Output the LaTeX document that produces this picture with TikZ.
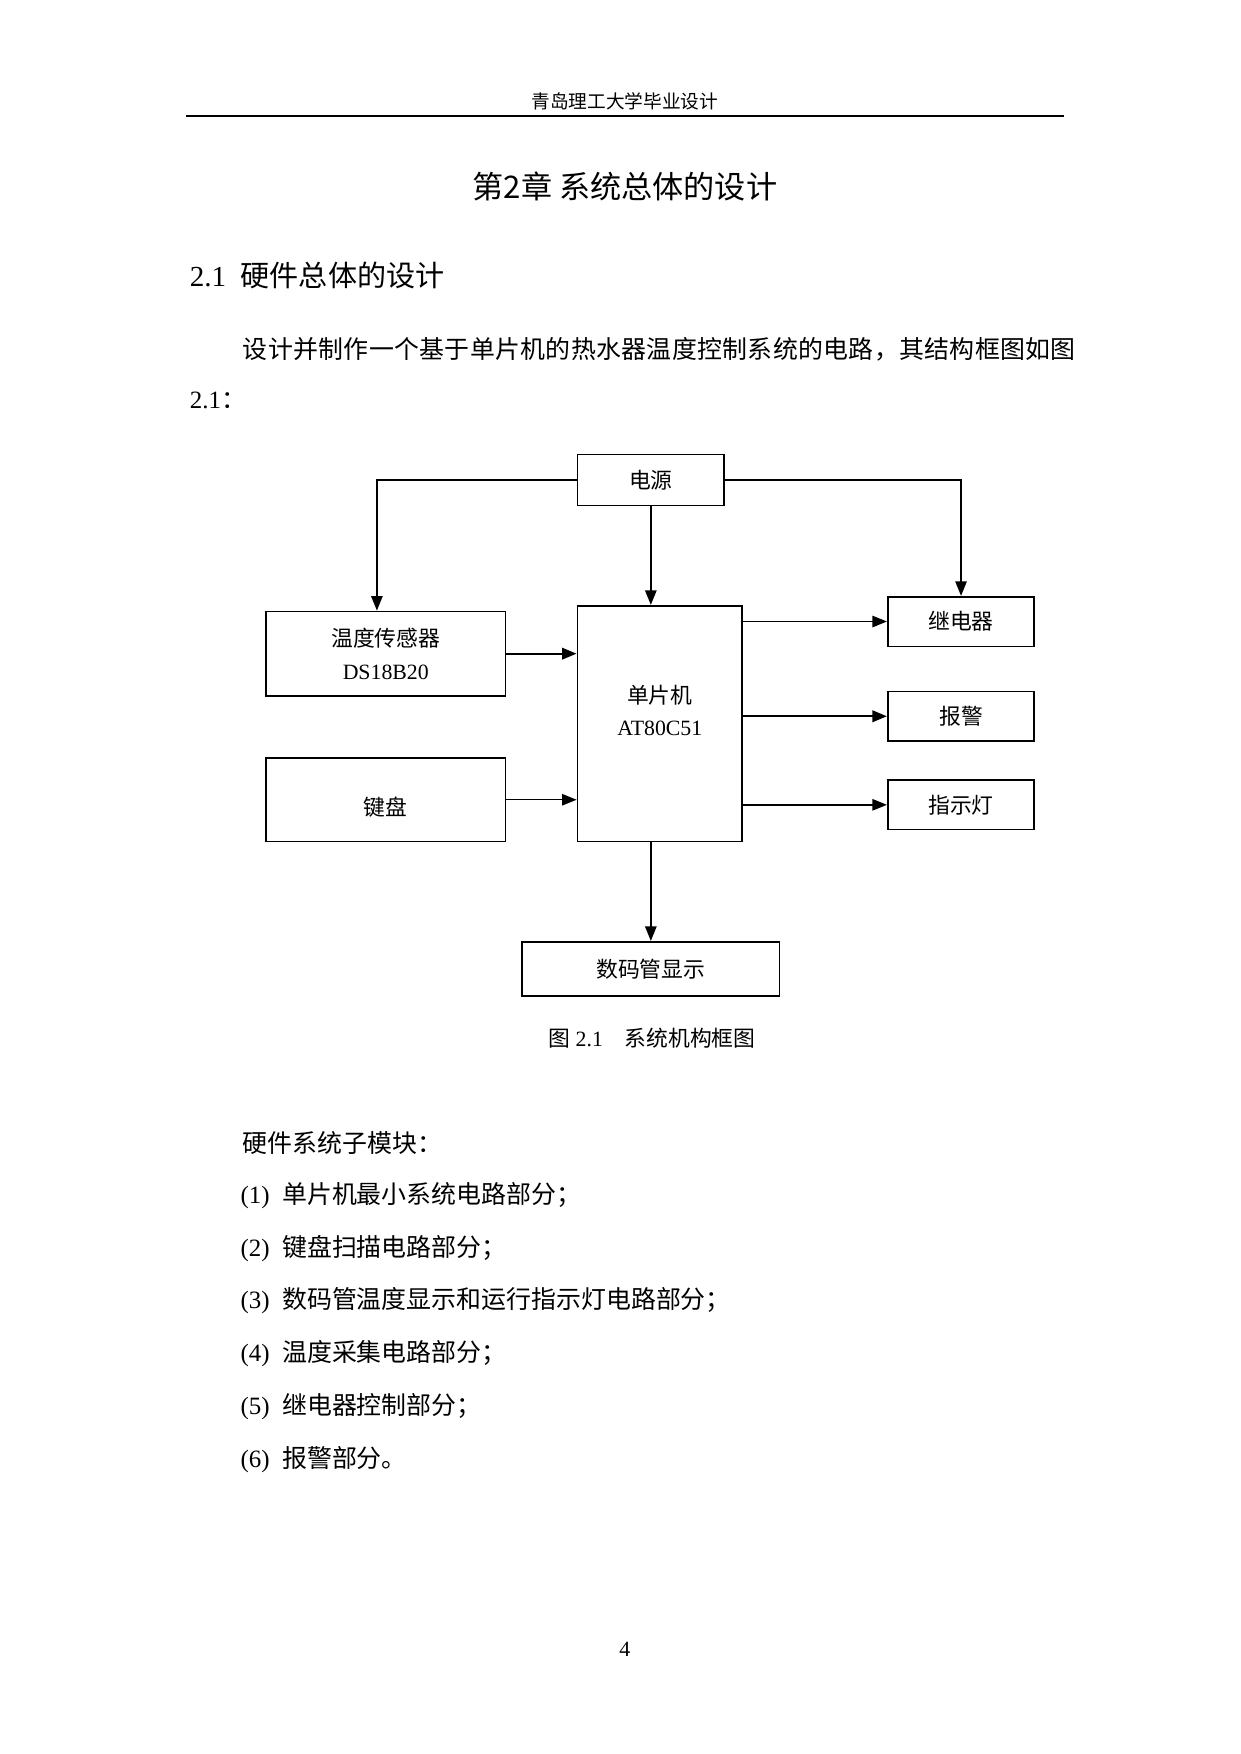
\documentclass[tikz,border=0pt]{standalone}
\usepackage{fontspec}
\setmainfont{Liberation Serif}
\newfontfamily\cjk{Noto Sans CJK SC}
\usetikzlibrary{arrows.meta,positioning}

\begin{document}
\begin{tikzpicture}[
x=0.019088cm, y=-0.019088cm,
block/.style={rectangle, draw=black, line width=0.8pt, align=center, inner sep=0pt, font=\cjk\fontsize{10.5pt}{15.7pt}\selectfont},
smallbox/.style={block, minimum width=2.48cm, minimum height=0.84cm},
wire/.style={line width=0.7pt, -{Triangle[length=7pt,width=5.5pt]}},
body/.style={anchor=west, inner sep=0pt, font=\fontsize{12pt}{14pt}\selectfont},
]
\useasboundingbox (0,0) rectangle (1100.2,1555);
% page head
\node (head) [font=\cjk\fontsize{9pt}{11pt}\selectfont] at (554,90) {青岛理工大学毕业设计};
\draw[line width=1pt] (165,103) -- (943,103);
\node (title) [font=\cjk\fontsize{15pt}{18pt}\selectfont] at (554,165) {第2章 系统总体的设计};
\node (sec) [body, font=\fontsize{14pt}{16pt}\selectfont] at (168,244) {2.1\hspace{0.5em}{\cjk 硬件总体的设计}};
\node (par1) [body] at (215,310) {\cjk\addfontfeature{LetterSpace=1.3}设计并制作一个基于单片机的热水器温度控制系统的电路，其结构框图如图};
\node (par2) [body] at (168,355) {2.1{\cjk ：}};

% blocks
\node (power) [block, minimum width=2.48cm, minimum height=0.86cm] at (577,425.5) {电源};
\node (sensor) [block, minimum width=4.05cm, minimum height=1.43cm] at (342,579.5) {温度传感器\\\rmfamily DS18B20};
\node (mcu) [block, minimum width=2.79cm, minimum height=3.99cm] at (585,641.5) {单片机\\\rmfamily AT80C51\\[-0.1cm]\mbox{}};
\node (kbd) [block, minimum width=4.05cm, minimum height=1.41cm] at (342,709) {\mbox{}\\键盘\hspace{0.3cm}};
\node (relay) [smallbox] at (852,551) {继电器};
\node (alarm) [smallbox] at (852,635) {报警};
\node (lamp) [smallbox] at (852,713.5) {指示灯};
\node (disp) [block, minimum width=4.35cm, minimum height=0.92cm] at (577,859) {数码管显示};

% connectors
\draw[wire] (power.west) -| ([xshift=-0.15cm]sensor.north);
\draw[wire] (power.east) -| (relay.north);
\draw[wire] (power.south) -- (power.south |- mcu.north);
\draw[wire, line width=1.1pt] (sensor.east) -- (sensor.east -| mcu.west);
\draw[wire] (kbd.east) -- (kbd.east -| mcu.west);
\draw[wire] (relay.west -| mcu.east) -- (relay.west);
\draw[wire, line width=1.1pt] (alarm.west -| mcu.east) -- (alarm.west);
\draw[wire] (lamp.west -| mcu.east) -- (lamp.west);
\draw[wire] (disp.north |- mcu.south) -- (disp.north);

\node (cap) [font=\fontsize{10.5pt}{12pt}\selectfont] at (578,920) {{\cjk 图} 2.1\hspace{1em}{\cjk 系统机构框图}};

% list
\node (sub) [body] at (215,1013) {\cjk 硬件系统子模块：};
\node (it1) [body] at (213,1060) {(1)\hspace{0.5em}{\cjk 单片机最小系统电路部分；}};
\node (it2) [body] at (213,1107) {(2)\hspace{0.5em}{\cjk 键盘扫描电路部分；}};
\node (it3) [body] at (213,1153) {(3)\hspace{0.5em}{\cjk 数码管温度显示和运行指示灯电路部分；}};
\node (it4) [body] at (213,1200) {(4)\hspace{0.5em}{\cjk 温度采集电路部分；}};
\node (it5) [body] at (213,1247) {(5)\hspace{0.5em}{\cjk 继电器控制部分；}};
\node (it6) [body] at (213,1294) {(6)\hspace{0.5em}{\cjk 报警部分。}};

\node (page) [font=\fontsize{10.5pt}{12pt}\selectfont] at (554,1462) {4};
\end{tikzpicture}
\end{document}
